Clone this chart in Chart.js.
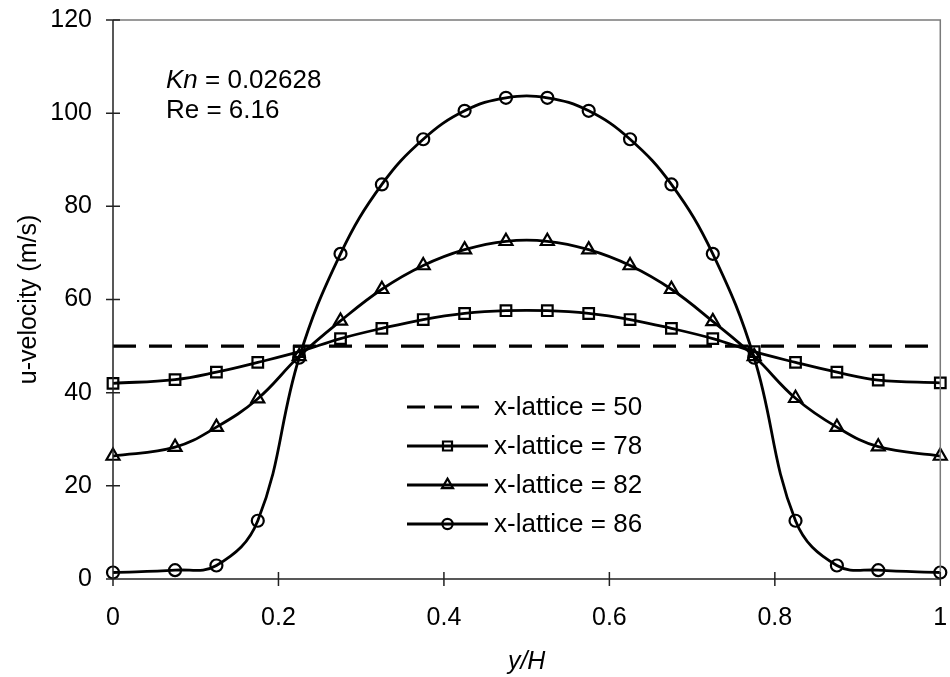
<!DOCTYPE html>
<html>
<head>
<meta charset="utf-8">
<script src="https://cdn.jsdelivr.net/npm/chart.js@4.4.1/dist/chart.umd.min.js"></script>
<style>
  html, body { margin: 0; padding: 0; background: #fff; }
  #wrap { width: 950px; height: 677px; }
</style>
</head>
<body>
<div id="wrap"><canvas id="velocityChart"></canvas></div>
<script>
// y/H positions across the channel
var yH = [0, 0.075, 0.125, 0.175, 0.225, 0.275, 0.325, 0.375, 0.425, 0.475,
          0.525, 0.575, 0.625, 0.675, 0.725, 0.775, 0.825, 0.875, 0.925, 1];
var yH50 = [0, 1];

// u-velocity (m/s) at each x-lattice station
var u50 = [50, 50];
var u78 = [42.0, 42.8, 44.4, 46.5, 48.8, 51.6, 53.8, 55.7, 57.0, 57.6,
           57.6, 57.0, 55.7, 53.8, 51.6, 48.8, 46.5, 44.4, 42.7, 42.1];
var u82 = [26.4, 28.3, 32.6, 38.7, 47.8, 55.4, 62.2, 67.3, 70.7, 72.5,
           72.5, 70.7, 67.3, 62.2, 55.3, 47.8, 38.8, 32.6, 28.4, 26.4];
var u86 = [1.4, 1.9, 2.9, 12.5, 47.5, 69.8, 84.7, 94.4, 100.5, 103.3,
           103.3, 100.5, 94.4, 84.7, 69.8, 47.5, 12.5, 2.9, 1.9, 1.4];

var seriesLabels = ['x-lattice = 50', 'x-lattice = 78', 'x-lattice = 82', 'x-lattice = 86'];

var FONT = "'Liberation Sans', Arial, Helvetica, sans-serif";
var TICK_SIZE = 25;
var TEXT_SIZE = 26;

function pts(xs, ys) {
    return xs.map(function(x, i) { return { x: x, y: ys[i] }; });
}

function series(label, data, style, radius) {
    return {
        label: label,
        data: data,
        borderColor: '#000',
        borderWidth: 2.8,
        pointStyle: style,
        pointRadius: radius,
        pointBorderWidth: 2.2,
        pointBorderColor: '#000',
        pointBackgroundColor: 'rgba(0,0,0,0)',
        tension: 0.4,
        clip: false
    };
}

var datasets = [
    {
        label: seriesLabels[0],
        data: pts(yH50, u50),
        borderColor: '#000',
        borderWidth: 3.2,
        borderDash: [23, 13],
        pointRadius: 0,
        tension: 0,
        clip: false
    },
    series(seriesLabels[1], pts(yH, u78), 'rect', 7.5),
    series(seriesLabels[2], pts(yH, u82), 'triangle', 7.5),
    series(seriesLabels[3], pts(yH, u86), 'circle', 6)
];

// tick marks that cross the axis lines, plus the light frame on top and right
var axisMarks = {
    id: 'axisMarks',
    afterDraw: function(chart) {
        var ctx = chart.ctx, a = chart.chartArea;
        var xs = chart.scales.x, ys = chart.scales.y;
        ctx.save();
        ctx.strokeStyle = '#7a7a7a';
        ctx.lineWidth = 1.5;
        ctx.beginPath();
        ctx.moveTo(a.left, a.top); ctx.lineTo(a.right, a.top); ctx.lineTo(a.right, a.bottom);
        ctx.stroke();
        ctx.strokeStyle = '#222';
        ctx.lineWidth = 1.5;
        ctx.beginPath();
        xs.ticks.forEach(function(t) {
            var px = xs.getPixelForValue(t.value);
            ctx.moveTo(px, a.bottom - 7); ctx.lineTo(px, a.bottom + 7);
        });
        ys.ticks.forEach(function(t) {
            var py = ys.getPixelForValue(t.value);
            ctx.moveTo(a.left - 7, py); ctx.lineTo(a.left + 7, py);
        });
        ctx.moveTo(a.left, a.top); ctx.lineTo(a.left, a.bottom); ctx.lineTo(a.right, a.bottom);
        ctx.stroke();
        ctx.restore();
    }
};

// flow parameters in the upper left corner
var flowNotes = {
    id: 'flowNotes',
    afterDraw: function(chart) {
        var ctx = chart.ctx, a = chart.chartArea;
        var x = a.left + 53;
        ctx.save();
        ctx.fillStyle = '#000';
        ctx.textBaseline = 'middle';
        ctx.font = 'italic ' + TEXT_SIZE + 'px ' + FONT;
        ctx.fillText('Kn', x, 81);
        var w = ctx.measureText('Kn').width;
        ctx.font = TEXT_SIZE + 'px ' + FONT;
        ctx.fillText(' = 0.02628', x + w, 81);
        ctx.fillText('Re = 6.16', x, 111);
        ctx.restore();
    }
};

// legend placed inside the plot area
var insideLegend = {
    id: 'insideLegend',
    afterDraw: function(chart) {
        var ctx = chart.ctx;
        var x0 = 407, x1 = 488, top = 407, step = 39;
        ctx.save();
        chart.data.datasets.forEach(function(ds, i) {
            var y = top + i * step;
            ctx.strokeStyle = '#000';
            ctx.lineWidth = ds.borderWidth;
            ctx.setLineDash(ds.borderDash ? [18, 9] : []);
            ctx.beginPath();
            ctx.moveTo(x0, y); ctx.lineTo(x1, y);
            ctx.stroke();
            ctx.setLineDash([]);
            if (ds.pointRadius > 0) {
                ctx.fillStyle = 'rgba(0,0,0,0)';
                ctx.lineWidth = ds.pointBorderWidth;
                Chart.helpers.drawPoint(ctx, {
                    pointStyle: ds.pointStyle,
                    radius: ds.pointRadius * 0.85,
                    borderWidth: ds.pointBorderWidth
                }, (x0 + x1) / 2, y);
            }
            ctx.fillStyle = '#000';
            ctx.font = TEXT_SIZE + 'px ' + FONT;
            ctx.textBaseline = 'middle';
            ctx.fillText(ds.label, x1 + 6, y + 1);
        });
        ctx.restore();
    }
};

new Chart(document.getElementById('velocityChart'), {
    type: 'line',
    data: { datasets: datasets },
    options: {
        responsive: true,
        maintainAspectRatio: false,
        animation: false,
        layout: { padding: { top: 20, right: 3, left: 0, bottom: 0 } },
        plugins: { legend: { display: false }, tooltip: { enabled: false } },
        scales: {
            x: {
                type: 'linear',
                min: 0,
                max: 1,
                afterFit: function(scale) {
                    scale.height = 98;
                    scale.paddingLeft = 0;
                    scale.paddingRight = 0;
                },
                grid: { display: false, drawTicks: true, tickLength: 7 },
                border: { display: false },
                ticks: {
                    stepSize: 0.2,
                    padding: 17,
                    color: '#000',
                    font: { family: FONT, size: TICK_SIZE },
                    callback: function(v) { return String(Math.round(v * 10) / 10); }
                },
                title: {
                    display: true,
                    text: 'y/H',
                    color: '#000',
                    padding: { top: 0, bottom: 0 },
                    font: { family: FONT, size: TICK_SIZE, style: 'italic' }
                }
            },
            y: {
                min: 0,
                max: 120,
                afterFit: function(scale) {
                    scale.width = 113;
                    scale.paddingTop = 0;
                    scale.paddingBottom = 0;
                },
                grid: { display: false, drawTicks: true, tickLength: 7 },
                border: { display: false },
                ticks: { stepSize: 20, padding: 14, color: '#000', font: { family: FONT, size: TICK_SIZE } },
                title: {
                    display: true,
                    text: 'u-velocity (m/s)',
                    color: '#000',
                    padding: { top: 14, bottom: 14 },
                    font: { family: FONT, size: TICK_SIZE }
                }
            }
        }
    },
    plugins: [axisMarks, flowNotes, insideLegend]
});
</script>
</body>
</html>
